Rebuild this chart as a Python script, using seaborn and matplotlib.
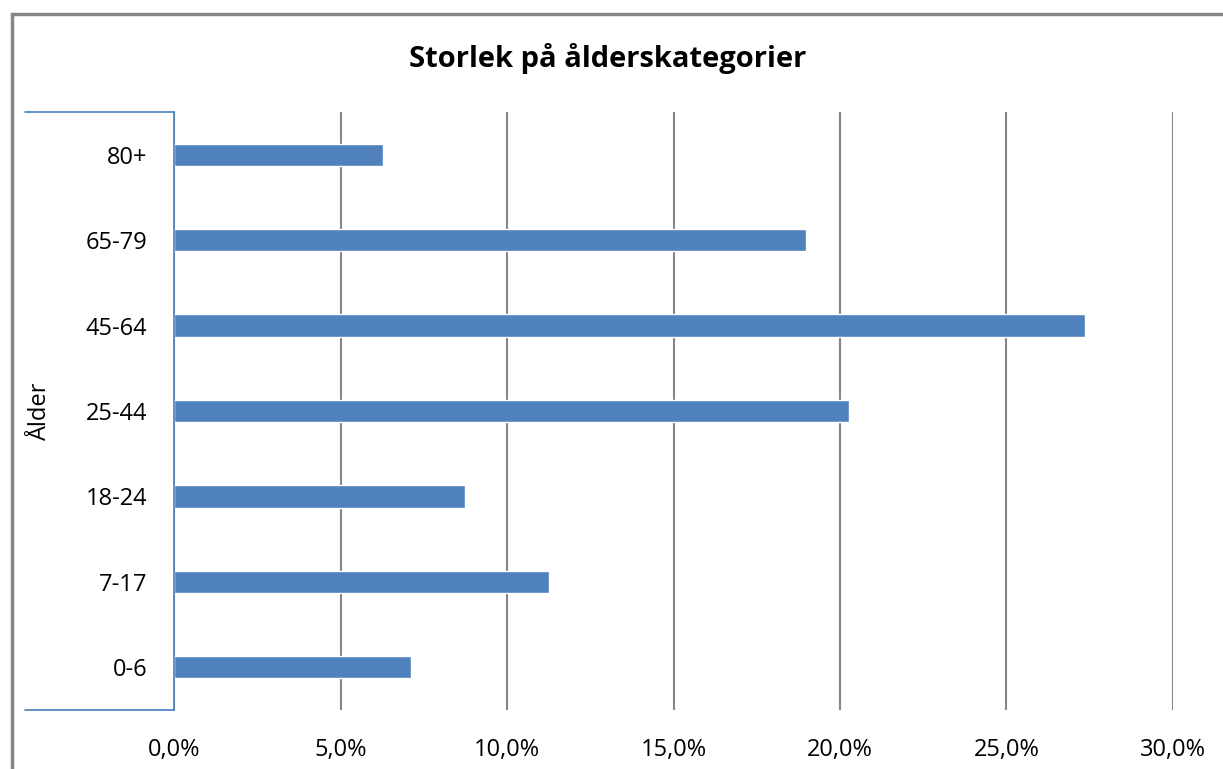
import matplotlib
matplotlib.use("Agg")
import matplotlib.pyplot as plt
import seaborn as sns
import pandas as pd
from matplotlib.lines import Line2D
from matplotlib.patches import Rectangle
from matplotlib.ticker import FuncFormatter

# Data
age_groups = ["80+", "65-79", "45-64", "25-44", "18-24", "7-17", "0-6"]
shares = [6.28, 18.98, 27.36, 20.27, 8.74, 11.26, 7.12]
x_ticks = [0, 5, 10, 15, 20, 25, 30]

df = pd.DataFrame({"Ålder": age_groups, "Andel": shares})

sns.set_style("white")
plt.rcParams["font.family"] = ["Open Sans", "DejaVu Sans"]
plt.rcParams["text.color"] = "black"
plt.rcParams["axes.labelcolor"] = "black"

fig = plt.figure(figsize=(12.23, 7.69), dpi=100)
ax = fig.add_axes([174 / 1223, 59 / 769, 999 / 1223, 598 / 769])

sns.barplot(data=df, x="Andel", y="Ålder", order=age_groups, orient="h",
            color="#4F81BD", saturation=1, width=0.26, ax=ax)

ax.set_xlim(0, 30)
ax.set_ylim(len(age_groups) - 0.5, -0.5)
ax.set_xticks(x_ticks)
ax.xaxis.set_major_formatter(FuncFormatter(lambda v, p: f"{v:.1f}%".replace(".", ",")))
ax.tick_params(axis="both", length=0, labelsize=17, colors="black")
ax.tick_params(axis="x", pad=20)
ax.tick_params(axis="y", pad=19)
ax.grid(axis="x", color="#868686", linewidth=1.5)
ax.set_axisbelow(True)

for s in ["top", "right", "bottom"]:
    ax.spines[s].set_visible(False)
ax.spines["left"].set_color("#4A7EBB")
ax.spines["left"].set_linewidth(1.2)

ax.set_xlabel("")
ax.set_ylabel("Ålder", fontsize=17, labelpad=0)
ax.yaxis.set_label_coords(-122 / 999, 0.5)

# bracket lines of the category axis
for yy in [112, 710]:
    fig.add_artist(Line2D([25 / 1223, 174 / 1223], [1 - yy / 769, 1 - yy / 769],
                          color="#4A7EBB", linewidth=1.2))

# chart area border
fig.add_artist(Rectangle((12 / 1223, -0.1), 1.2, 1 - 14 / 769 + 0.1,
                         fill=False, edgecolor="#868686", linewidth=2.5))

fig.text(608 / 1223, 1 - 58 / 769, "Storlek på ålderskategorier",
         ha="center", va="center", fontsize=21, fontweight="bold")

fig.savefig("out.png", dpi=100)
